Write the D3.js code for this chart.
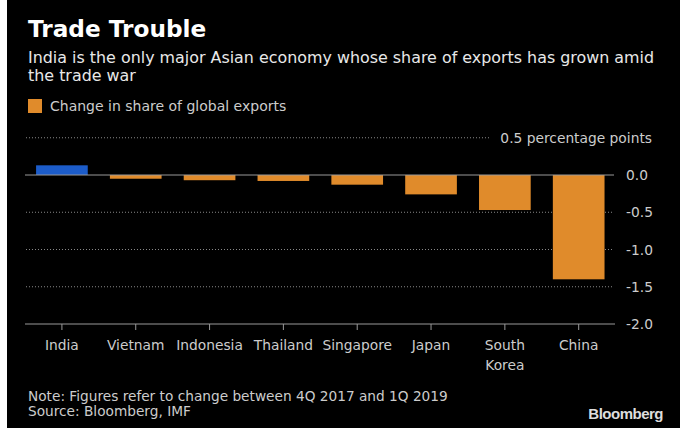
<!DOCTYPE html>
<html><head><meta charset="utf-8">
<script src="https://cdn.jsdelivr.net/npm/d3@7"></script>
<style>
html,body{margin:0;padding:0;background:#000;}
svg{display:block;}
text{font-family:"DejaVu Sans",sans-serif;}
</style></head>
<body>
<svg id="c" width="680" height="428"></svg>
<script>
const categories = ["India","Vietnam","Indonesia","Thailand","Singapore","Japan","South Korea","China"];
const values = [0.13,-0.05,-0.07,-0.08,-0.13,-0.26,-0.47,-1.40];
const yTicks = [0.5,0.0,-0.5,-1.0,-1.5,-2.0];
const tickLabels = ["0.5 percentage points","0.0","-0.5","-1.0","-1.5","-2.0"];

const svg = d3.select("#c");
const W = 680, H = 428;
svg.append("rect").attr("width",W).attr("height",H).attr("fill","#000");
svg.append("rect").attr("x",0).attr("y",0).attr("width",7).attr("height",H).attr("fill","#fff");

const orange = "#e08b2b", blue = "#1c5cc9";

svg.append("text").attr("x",28).attr("y",37).attr("fill","#fff")
  .style("font-size","23.2px").style("font-weight","bold").text("Trade Trouble");
svg.append("text").attr("x",28).attr("y",63).attr("fill","#e8e8e8").style("font-size","15.9px")
  .text("India is the only major Asian economy whose share of exports has grown amid");
svg.append("text").attr("x",28).attr("y",81).attr("fill","#e8e8e8").style("font-size","15.9px")
  .text("the trade war");

svg.append("rect").attr("x",28).attr("y",99).attr("width",14).attr("height",14).attr("fill",orange);
svg.append("text").attr("x",50).attr("y",111).attr("fill","#ccc").style("font-size","14px")
  .text("Change in share of global exports");

const x = d3.scaleBand().domain(categories).range([25,615.6]).paddingInner(0.3).paddingOuter(0.15);
const y = d3.scaleLinear().domain([-2,0.5]).range([324,137.75]);

// gridlines
yTicks.forEach((t,i)=>{
  if (t===0 || t===-2) return;
  svg.append("line").attr("x1",26).attr("x2", t===0.5 ? 489 : 614)
    .attr("y1",y(t)).attr("y2",y(t)).attr("stroke","#888").attr("stroke-width",1)
    .attr("stroke-dasharray","1,2");
});

// bars
svg.selectAll("rect.bar").data(categories).enter().append("rect").attr("class","bar")
  .attr("x",d=>x(d)).attr("width",x.bandwidth())
  .attr("y",(d,i)=>y(Math.max(0,values[i])))
  .attr("height",(d,i)=>Math.abs(y(values[i])-y(0)))
  .attr("fill",(d,i)=>values[i]>=0?blue:orange);

// zero line
svg.append("line").attr("x1",25).attr("x2",614).attr("y1",y(0)).attr("y2",y(0))
  .attr("stroke","#999").attr("stroke-width",1);

// y labels
yTicks.forEach((t,i)=>{
  const el = svg.append("text").attr("y",y(t)+5).attr("fill","#ccc").style("font-size","13.8px").text(tickLabels[i]);
  if (i===0) el.attr("x",652).attr("text-anchor","end");
  else el.attr("x",626);
});

// x axis
const xAxis = d3.axisBottom(x).tickSize(6).tickFormat("");
const g = svg.append("g").attr("transform",`translate(0,${y(-2)})`).call(xAxis);
g.select(".domain").attr("stroke","#999").attr("d",`M25,0H615`);
g.selectAll(".tick line").attr("stroke","#999");

categories.forEach(c=>{
  const parts = c==="South Korea" ? ["South","Korea"] : [c];
  parts.forEach((p,j)=>{
    svg.append("text").attr("x",x(c)+x.bandwidth()/2).attr("y",350+j*20)
      .attr("text-anchor","middle").attr("fill","#ccc").style("font-size","13.8px").text(p);
  });
});

svg.append("text").attr("x",28).attr("y",401).attr("fill","#ccc").style("font-size","13.7px")
  .text("Note: Figures refer to change between 4Q 2017 and 1Q 2019");
svg.append("text").attr("x",28).attr("y",416).attr("fill","#ccc").style("font-size","13.7px")
  .text("Source: Bloomberg, IMF");
svg.append("text").attr("x",663).attr("y",419).attr("text-anchor","end").attr("fill","#ddd")
  .style("font-size","15px").style("font-weight","bold").style("font-family","'Liberation Sans',Arial,sans-serif")
  .style("letter-spacing","-0.5px").text("Bloomberg");
</script>
</body></html>
